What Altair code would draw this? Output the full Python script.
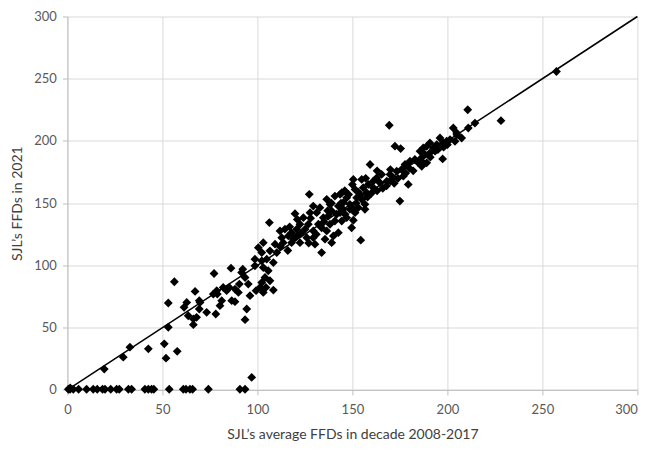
import altair as alt
import pandas as pd

# SJL's average FFDs (2008-2017) vs SJL's FFDs in 2021
x_avg = [
    # points sitting on the zero line
    0.5, 1.4, 3.1, 5.9, 10.1, 13.6, 15.7, 18.5, 19.8, 22.8, 25.9, 27.3, 32.1, 33.8,
    40.8, 42.6, 44.3, 45.5, 53.6, 61.0, 62.4, 64.5, 65.9, 74.2, 90.8, 93.5,
    # low scatter
    1.5, 97.0, 32.9, 29.4, 19.4, 42.6, 51.0, 51.9, 57.8, 53.1, 53.1, 56.3,
    # 60-100
    67.2, 77.2, 86.1, 62.8, 61.4, 63.6, 66.3, 66.3, 69.8, 69.4, 73.3, 78.1, 76.8, 78.6,
    81.2, 80.3, 83.8, 86.5, 88.2, 88.2, 90.0, 90.5, 91.7, 93.5, 95.2, 96.1, 94.4, 93.5,
    99.3, 98.7, 98.7, 100.5, 92.3, 68.0, 78.9, 82.0, 85.2, 69.4,
    # 100-145
    127.3, 106.3, 119.8, 111.9, 114.5, 118.0, 122.4, 124.2, 127.7, 129.4, 132.9, 136.5,
    140.8, 139.1, 134.7, 132.1, 129.4, 126.0, 130.3, 133.8, 139.1, 142.6, 138.2, 141.7,
    122.4, 118.0, 113.6, 109.3, 103.1, 102.3, 104.9, 106.6, 110.2, 108.4, 103.1, 104.0,
    102.3, 104.5, 108.4, 112.8, 116.3, 120.7, 129.4, 143.5, 138.2, 142.6, 131.2, 137.3,
    140.8, 133.8, 136.5, 140.0, 135.6, 126.8, 125.1, 120.7, 105.7, 102.3, 106.6, 101.4,
    103.1,
    # 145-185
    172.4, 175.4, 159.3, 150.5, 154.9, 179.4, 175.0, 154.4, 150.5, 146.1, 156.6,
    144.4, 147.0, 145.2, 148.7, 152.3, 151.4, 155.7, 158.4, 161.0, 162.8, 165.4, 164.5,
    168.1, 169.8, 173.3, 175.9, 177.7, 180.3, 182.9, 184.7, 176.8, 171.5, 161.0, 157.5,
    154.0, 148.7, 145.2, 147.0, 143.5, 144.4, 151.4, 153.1, 149.6, 156.6, 169.4,
    # 185-260
    210.7, 228.2, 214.5, 211.0, 203.1, 204.9, 207.5, 204.0, 201.4, 199.6, 197.8, 196.1,
    194.4, 192.6, 190.8, 189.1, 187.3, 185.6, 188.2, 190.8, 193.5, 197.5, 186.5, 189.1,
    186.5, 257.4,
    # further points inside the dense band
    112.0, 116.0, 119.0, 123.0, 127.0, 131.0, 135.0, 137.0, 144.0, 146.0, 150.0, 152.0,
    155.0, 158.0, 160.0, 163.0, 166.0, 168.0, 170.0, 172.0, 174.0, 178.0, 180.0, 182.0,
    186.0, 191.0, 195.0, 198.0, 200.0, 205.0, 117.0, 121.0, 128.0, 150.0, 157.0, 163.0,
    170.0, 148.0, 153.0, 139.0,
]

y_2021 = [
    0.5, 0.5, 0.5, 0.5, 0.5, 0.5, 0.5, 0.5, 0.5, 0.5, 0.5, 0.5, 0.5, 0.5,
    0.5, 0.5, 0.5, 0.5, 0.5, 0.5, 0.5, 0.5, 0.5, 0.5, 0.5, 0.5,
    1.5, 10.0, 34.3, 26.3, 16.7, 33.0, 37.0, 25.5, 31.0, 50.3, 69.8, 86.9,
    79.1, 93.5, 97.8, 70.3, 66.3, 59.6, 57.0, 52.4, 70.3, 65.0, 62.3, 61.0, 77.0, 79.7,
    71.7, 67.7, 79.7, 71.7, 70.9, 81.0, 78.3, 85.0, 94.3, 90.3, 85.0, 75.7, 65.0, 56.4,
    79.7, 99.7, 105.0, 114.3, 97.0, 58.3, 77.0, 82.3, 82.3, 71.7,
    157.1, 134.4, 141.6, 127.7, 129.1, 126.3, 133.1, 138.4, 142.4, 147.7, 146.4, 153.1,
    155.7, 143.7, 138.4, 133.1, 127.7, 122.3, 117.1, 110.3, 118.3, 126.3, 133.1, 141.1,
    118.3, 118.3, 118.3, 117.1, 118.3, 110.3, 105.0, 111.7, 110.3, 102.3, 98.3, 90.3,
    86.3, 82.3, 80.2, 122.3, 123.7, 123.7, 122.3, 157.1, 149.1, 147.7, 142.4, 139.7,
    135.7, 130.3, 127.7, 123.7, 121.1, 133.1, 129.1, 129.1, 95.7, 103.7, 87.7, 82.3,
    78.3,
    195.8, 193.9, 181.1, 169.1, 169.1, 165.1, 151.7, 120.3, 136.3, 141.1, 145.1,
    158.4, 154.4, 150.4, 149.1, 154.4, 161.1, 162.4, 165.1, 167.7, 170.4, 173.1, 166.4,
    167.7, 173.1, 175.7, 177.1, 181.1, 183.7, 185.1, 182.4, 171.7, 170.4, 162.4, 158.4,
    157.1, 145.1, 145.1, 138.4, 142.4, 135.7, 142.4, 146.4, 130.3, 149.1, 212.6,
    225.1, 216.3, 214.4, 210.4, 210.4, 206.4, 202.4, 199.8, 201.1, 199.8, 198.4, 202.4,
    197.1, 194.4, 198.4, 195.7, 194.4, 191.8, 189.1, 190.4, 191.8, 185.6, 183.7, 182.4,
    179.7, 255.8,
    115.0, 112.0, 121.0, 126.0, 118.0, 125.0, 135.0, 144.0, 150.0, 160.0, 146.0, 150.0,
    153.0, 155.0, 158.0, 160.0, 162.0, 164.0, 168.0, 166.0, 170.0, 174.0, 178.0, 176.0,
    186.0, 187.0, 193.0, 195.0, 197.0, 205.0, 131.0, 137.0, 138.0, 165.0, 170.0, 176.0,
    177.0, 157.0, 159.0, 150.0,
]

line_x = [0, 300]
line_y = [0, 300]
tick_values = [0, 50, 100, 150, 200, 250, 300]

pts = pd.DataFrame({"x": x_avg, "y": y_2021})
diag = pd.DataFrame({"x": line_x, "y": line_y})

xscale = alt.Scale(domain=[0, 300], nice=False, zero=True)
yscale = alt.Scale(domain=[0, 300], nice=False, zero=True)

xaxis = alt.Axis(
    values=tick_values, title="SJL\u2019s average FFDs in decade 2008-2017",
    titlePadding=11, labelPadding=9,
    labelAlign={"condition": {"test": "datum.value === 300", "value": "right"},
                "value": "center"},
)
yaxis = alt.Axis(values=tick_values, title="SJL\u2019s FFDs in 2021",
                 titlePadding=9, labelPadding=6)

points = alt.Chart(pts).mark_point(shape="diamond", filled=True, size=78,
                                   color="black", opacity=1).encode(
    x=alt.X("x:Q", scale=xscale, axis=xaxis),
    y=alt.Y("y:Q", scale=yscale, axis=yaxis),
)

line = alt.Chart(diag).mark_line(color="black", strokeWidth=1.5).encode(
    x=alt.X("x:Q", scale=xscale),
    y=alt.Y("y:Q", scale=yscale),
)

chart = alt.layer(points, line).properties(
    width=570, height=373.4,
    autosize=alt.AutoSizeParams(type="none"),
    padding={"left": 59.4, "top": 8.5, "right": 3, "bottom": 52},
).configure_view(stroke=None).configure_axis(
    labelFont="Lato", titleFont="Lato",
    labelFontSize=13, titleFontSize=14,
    labelColor="#595959", titleColor="#404040",
    titleFontWeight="normal",
    gridColor="#d9d9d9", gridWidth=1,
    domainColor="#bfbfbf", tickColor="#bfbfbf", tickSize=5,
)

chart.save("out.html", embed_options={"renderer": "svg", "actions": False})
